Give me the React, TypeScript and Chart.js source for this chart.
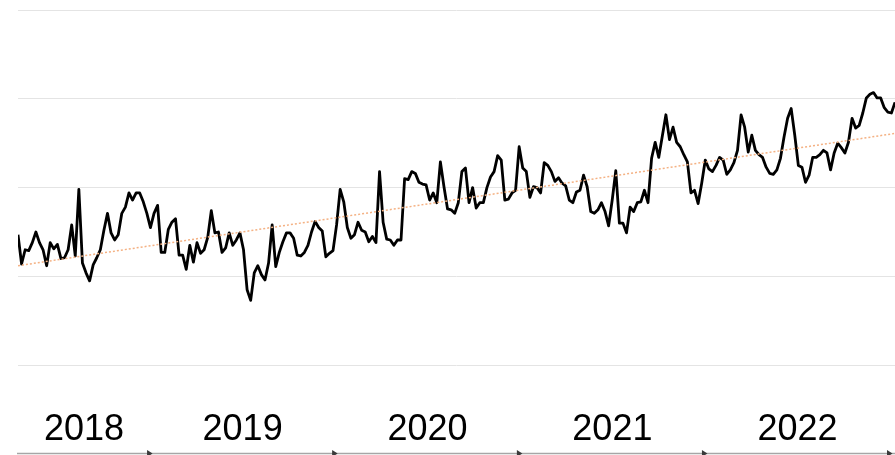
import React, { useEffect, useRef } from 'react';
import { Chart, registerables } from 'chart.js';

Chart.register(...registerables);

// Weekly series (arbitrary units), first point = first plotted week
const weeklyValues = [
  2.47, 2.14, 2.30, 2.29, 2.38, 2.50, 2.38, 2.30, 2.12, 2.38,
  2.31, 2.36, 2.20, 2.21, 2.30, 2.58, 2.23, 2.98, 2.15, 2.04,
  1.95, 2.13, 2.21, 2.30, 2.52, 2.71, 2.49, 2.41, 2.47, 2.71,
  2.78, 2.94, 2.86, 2.94, 2.94, 2.84, 2.71, 2.55, 2.71, 2.80,
  2.27, 2.27, 2.53, 2.61, 2.65, 2.24, 2.24, 2.08, 2.35, 2.16,
  2.38, 2.26, 2.30, 2.44, 2.74, 2.49, 2.50, 2.27, 2.32, 2.49,
  2.35, 2.41, 2.49, 2.30, 1.85, 1.73, 2.04, 2.12, 2.02, 1.96,
  2.15, 2.58, 2.11, 2.27, 2.39, 2.49, 2.49, 2.43, 2.24, 2.23,
  2.27, 2.35, 2.50, 2.62, 2.55, 2.51, 2.22, 2.26, 2.29, 2.58,
  2.98, 2.84, 2.55, 2.43, 2.47, 2.61, 2.52, 2.50, 2.39, 2.45,
  2.38, 3.18, 2.61, 2.42, 2.41, 2.35, 2.41, 2.41, 3.10, 3.09,
  3.18, 3.16, 3.06, 3.04, 3.03, 2.86, 2.94, 2.83, 3.29, 3.01,
  2.76, 2.75, 2.71, 2.83, 3.18, 3.22, 2.83, 3.00, 2.77, 2.83,
  2.83, 3.00, 3.12, 3.18, 3.36, 3.31, 2.86, 2.87, 2.94, 2.97,
  3.46, 3.22, 3.18, 2.89, 3.01, 3.00, 2.94, 3.28, 3.25, 3.18,
  3.07, 3.11, 3.05, 3.02, 2.86, 2.83, 2.95, 2.97, 3.14, 3.01,
  2.73, 2.71, 2.75, 2.83, 2.73, 2.57, 2.86, 3.19, 2.60, 2.60,
  2.49, 2.78, 2.73, 2.83, 2.84, 2.97, 2.83, 3.33, 3.51, 3.34,
  3.58, 3.82, 3.54, 3.68, 3.51, 3.46, 3.37, 3.29, 2.94, 2.97,
  2.82, 3.05, 3.31, 3.21, 3.18, 3.25, 3.34, 3.31, 3.15, 3.20,
  3.28, 3.42, 3.82, 3.68, 3.40, 3.59, 3.42, 3.37, 3.34, 3.23,
  3.16, 3.15, 3.20, 3.33, 3.57, 3.78, 3.89, 3.59, 3.25, 3.23,
  3.06, 3.14, 3.34, 3.34, 3.37, 3.42, 3.39, 3.20, 3.39, 3.50,
  3.45, 3.39, 3.51, 3.78, 3.67, 3.70, 3.84, 4.01, 4.05, 4.07,
  4.01, 4.01, 3.90, 3.85, 3.84, 3.96,
];

// Linear trend line: value at first and last week
const trendStart = 2.12;
const trendEnd = 3.61;

// Year labels and the week position (from first point) where each year ends
const yearLabels = ['2018', '2019', '2020', '2021', '2022'];
const yearEndWeeks = [36.9, 88.6, 140.2, 191.9, 243.6];

const yearAxisPlugin = {
  id: 'yearAxis',
  afterDraw(chart: any) {
    const { ctx, chartArea, scales } = chart;
    const xs = scales.x;
    const ys = scales.y;
    const yBase = Math.round(ys.getPixelForValue(0)) - 0.5;
    ctx.save();
    // base line
    ctx.strokeStyle = '#a6a6a6';
    ctx.lineWidth = 1.5;
    ctx.beginPath();
    ctx.moveTo(chartArea.left - 1, yBase);
    ctx.lineTo(chartArea.right, yBase);
    ctx.stroke();
    // arrow heads at year ends
    ctx.fillStyle = '#3a3a3a';
    yearEndWeeks.forEach((w) => {
      const px = xs.getPixelForValue(w);
      ctx.beginPath();
      ctx.moveTo(px + 2.5, yBase);
      ctx.lineTo(px - 3, yBase - 3.5);
      ctx.lineTo(px - 3, yBase + 3.5);
      ctx.closePath();
      ctx.fill();
    });
    // year labels centred in each year span
    ctx.font = '36px "Liberation Sans", Arial, sans-serif';
    ctx.fillStyle = '#000000';
    ctx.textAlign = 'center';
    ctx.textBaseline = 'alphabetic';
    yearLabels.forEach((lab, k) => {
      const a = xs.getPixelForValue(k === 0 ? xs.min : yearEndWeeks[k - 1]);
      const b = xs.getPixelForValue(yearEndWeeks[k]);
      ctx.fillText(lab, (a + b) / 2, yBase - 13.5);
    });
    ctx.restore();
  },
};

export default function App() {
  const canvasRef = useRef<HTMLCanvasElement | null>(null);

  useEffect(() => {
    const canvas = canvasRef.current;
    if (!canvas) return;
    const last = weeklyValues.length - 1;
    const chart = new Chart(canvas, {
      type: 'line',
      data: {
        datasets: [
          {
            label: 'Trend',
            data: [
              { x: 0, y: trendStart },
              { x: last, y: trendEnd },
            ],
            borderColor: '#f4b183',
            borderWidth: 1.5,
            borderDash: [2, 2],
            pointRadius: 0,
            fill: false,
            tension: 0,
          },
          {
            label: 'Series',
            data: weeklyValues.map((v, i) => ({ x: i, y: v })),
            borderColor: '#000000',
            borderWidth: 2.8,
            pointRadius: 0,
            fill: false,
            tension: 0,
            borderJoinStyle: 'round',
          },
        ],
      },
      options: {
        responsive: false,
        animation: false,
        events: [],
        layout: { padding: { left: 18, right: 0, top: 10, bottom: 1 } },
        plugins: {
          legend: { display: false },
          tooltip: { enabled: false },
        },
        scales: {
          x: {
            type: 'linear',
            display: false,
            min: 0,
            max: last,
          },
          y: {
            type: 'linear',
            min: 0,
            max: 5,
            ticks: { display: false, stepSize: 1 },
            border: { display: false },
            grid: {
              drawTicks: false,
              color: (c: any) => (c.tick && c.tick.value === 0 ? 'rgba(0,0,0,0)' : '#e4e4e4'),
              lineWidth: 1,
            },
          },
        },
      },
      plugins: [yearAxisPlugin],
    });
    return () => chart.destroy();
  }, []);

  return (
    <div style={{ position: 'absolute', left: 0, top: 0, width: 895, height: 455, background: '#ffffff' }}>
      <canvas ref={canvasRef} width={895} height={455} style={{ display: 'block' }} />
    </div>
  );
}
